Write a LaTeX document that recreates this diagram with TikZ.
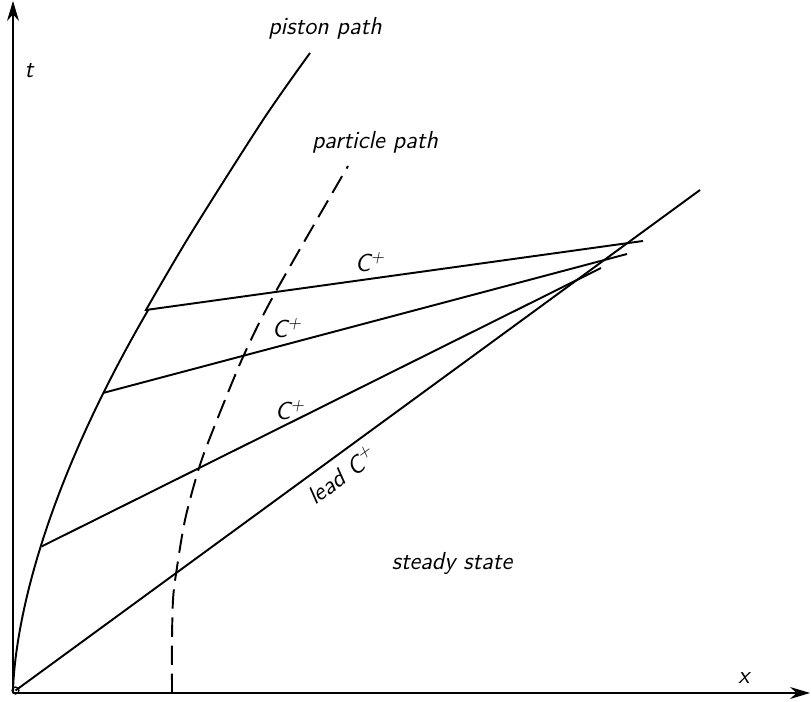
\documentclass[tikz,border=0pt]{standalone}
\usepackage{tikz}
\usetikzlibrary{arrows.meta,calc}

\begin{document}
\begin{tikzpicture}[
  axis/.style={line width=0.6pt,-{Stealth[length=4mm,width=2.4mm]}},
  curve/.style={line width=1.1pt},
  lbl/.style={font=\fontsize{14}{16}\selectfont\sffamily\itshape},
]
\useasboundingbox (-0.26,-0.18) rectangle (15.96,13.86);

\draw[axis] (0,0) -- (15.94,0);
\draw[axis] (0,0) -- (0,13.84);
\draw[line width=0.7pt] (0.05,0.05) circle (0.07);

% piston path
\draw[curve] (0,0) -- plot[domain=0.0001:7.66,samples=60] ({0.094*pow(\x,1.65)},\x)
  -- plot[smooth] coordinates {(2.66,7.66) (3.54,9.16) (5.0,11.46) (5.94,12.8)};

% particle path
\draw[curve,dash pattern=on 11pt off 5pt] plot[smooth] coordinates {(3.18,0) (3.18,1.06) (3.2,1.86) (3.26,2.38) (3.44,3.46) (3.72,4.5) (4.0,5.26) (4.6,6.72) (5.24,8.0) (6.7,10.54)};

\coordinate (o) at (0.05,0.05);
\coordinate (p1) at (0.57,2.93);
\coordinate (p2) at (1.8,6.0);
\coordinate (p3) at (2.66,7.66);
\coordinate (e0) at (13.74,10.06);
\coordinate (e1) at (11.76,8.5);
\coordinate (e2) at (12.28,8.78);
\coordinate (e3) at (12.6,9.04);

\draw[curve] (o) -- (e0) node[lbl,pos=0.46,sloped,below=1pt] (lead) {lead C\textsuperscript{+}};
\draw[curve] (p1) -- (e1);
\draw[curve] (p2) -- (e2);
\draw[curve] (p3) -- (e3);

\node[lbl] (tlab) at (0.32,12.44) {t};
\node[lbl] (xlab) at (14.62,0.3) {x};
\node[lbl] (piston) at (6.24,13.3) {piston path};
\node[lbl] (particle) at (7.24,11.02) {particle path};
\node[lbl] (c3) at (7.14,8.62) {C\textsuperscript{+}};
\node[lbl] (c2) at (5.48,7.3) {C\textsuperscript{+}};
\node[lbl] (c1) at (5.54,5.66) {C\textsuperscript{+}};
\node[lbl] (steady) at (8.78,2.6) {steady state};

\end{tikzpicture}
\end{document}
